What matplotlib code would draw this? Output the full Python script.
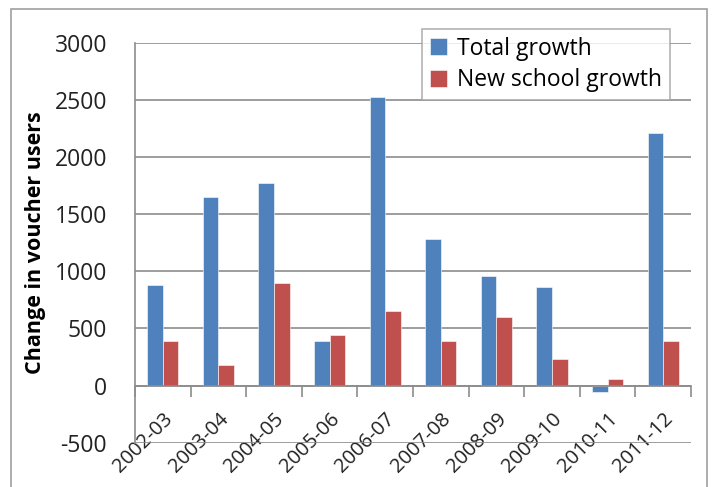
"""Change in voucher users by school year: total vs new school growth."""
import matplotlib

matplotlib.use("Agg")
import matplotlib.pyplot as plt
import numpy as np
from matplotlib.patches import Rectangle

years = ["2002-03", "2003-04", "2004-05", "2005-06", "2006-07",
         "2007-08", "2008-09", "2009-10", "2010-11", "2011-12"]
total_growth = [880, 1650, 1770, 390, 2525, 1280, 960, 860, -60, 2210]
new_school_growth = [390, 180, 900, 440, 650, 390, 600, 230, 60, 390]

BLUE = "#4F81BD"
RED = "#C0504D"
GRID = "#8C8C8C"

plt.rcParams["font.family"] = ["Open Sans", "DejaVu Sans"]
plt.rcParams["axes.unicode_minus"] = False

fig = plt.figure(figsize=(7.13, 4.87), dpi=100)
ax = fig.add_axes([0.1893, 0.091, 0.7798, 0.8207])

# outer chart border (bottom runs off the picture)
fig.patches.append(Rectangle((11 / 713, -0.1), 696 / 713, 1.1 - 9 / 487,
                             transform=fig.transFigure, fill=False,
                             edgecolor="#A0A0A0", linewidth=1.2))

x = np.arange(len(years))
w = 0.28
ax.bar(x - w / 2, total_growth, w, color=BLUE, edgecolor="white",
       linewidth=0.4, label="Total growth", zorder=3)
ax.bar(x + w / 2, new_school_growth, w, color=RED, edgecolor="white",
       linewidth=0.4, label="New school growth", zorder=3)

ax.set_xlim(-0.5, len(years) - 0.5)
ax.set_ylim(-500, 3000)
ax.set_yticks(np.arange(-500, 3001, 500))
ax.yaxis.grid(True, color=GRID, linewidth=1.2, zorder=0)
ax.tick_params(axis="y", length=0, pad=20, labelsize=16.5, labelcolor="#222222")

for s in ("top", "right"):
    ax.spines[s].set_visible(False)
ax.spines["left"].set_color(GRID)
ax.spines["left"].set_linewidth(1.2)
ax.spines["bottom"].set_position(("data", 0))
ax.spines["bottom"].set_color(GRID)
ax.spines["bottom"].set_linewidth(1.2)
ax.spines["bottom"].set_zorder(4)

ax.set_xticks(np.arange(-0.5, len(years), 1.0))
ax.set_xticklabels([])
ax.set_xticks(x, minor=True)
ax.set_xticklabels(years, minor=True, rotation=45, ha="right",
                   rotation_mode="anchor", fontsize=14.5, color="#222222")
ax.tick_params(axis="x", which="major", direction="out", length=8,
               width=1.2, color=GRID)
ax.tick_params(axis="x", which="minor", length=0, pad=17)

ax.set_ylabel("Change in voucher users", fontsize=15.5, fontweight="bold",
              labelpad=6)

leg = ax.legend(loc="upper right", bbox_to_anchor=(0.962, 1.035),
                fontsize=16.5, frameon=True, fancybox=False,
                handlelength=0.75, handleheight=0.75, handletextpad=0.45,
                borderpad=0.33, labelspacing=0.33, borderaxespad=0)
leg.get_frame().set_edgecolor("#A0A0A0")
leg.get_frame().set_linewidth(1.2)

fig.savefig("out.png", dpi=100)
